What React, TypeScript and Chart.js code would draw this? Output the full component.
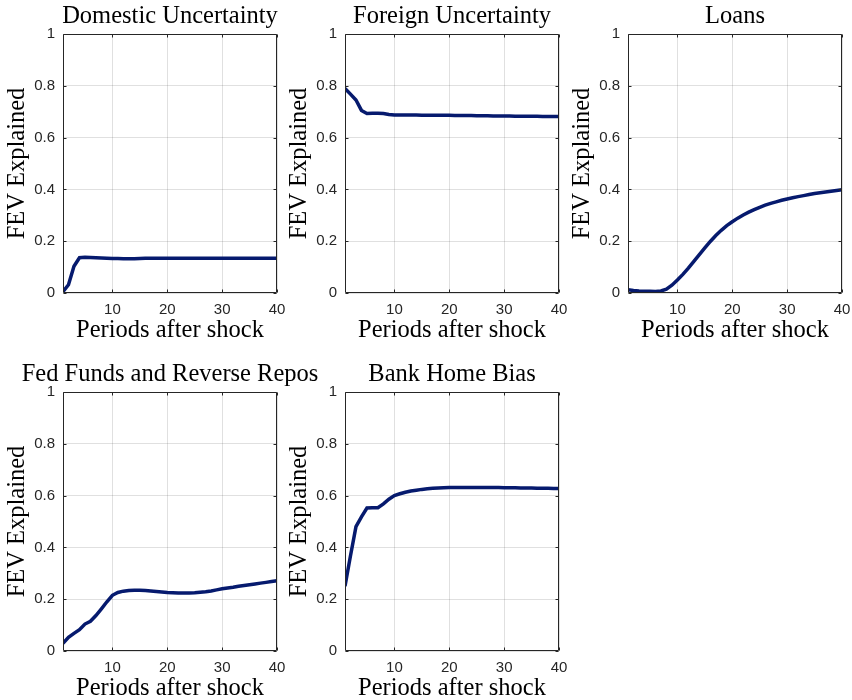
import React, { useEffect, useRef } from 'react';
import { Chart, registerables } from 'chart.js';

Chart.register(...registerables);

// ---- data ----
const periods = [1, 2, 3, 4, 5, 6, 7, 8, 9, 10, 11, 12, 13, 14, 15, 16, 17, 18, 19, 20,
  21, 22, 23, 24, 25, 26, 27, 28, 29, 30, 31, 32, 33, 34, 35, 36, 37, 38, 39, 40];
const xTickValues = [10, 20, 30, 40];
const yTickValues = [0, 0.2, 0.4, 0.6, 0.8, 1];

const domesticUncertainty = [0.005, 0.032, 0.103, 0.136, 0.138, 0.137, 0.136, 0.135, 0.134, 0.133,
  0.133, 0.132, 0.132, 0.132, 0.133, 0.134, 0.134, 0.134, 0.134, 0.134,
  0.134, 0.134, 0.134, 0.134, 0.134, 0.134, 0.134, 0.134, 0.134, 0.134,
  0.134, 0.134, 0.134, 0.134, 0.134, 0.134, 0.134, 0.134, 0.134, 0.134];

const foreignUncertainty = [0.79, 0.768, 0.745, 0.705, 0.693, 0.694, 0.694, 0.693, 0.689, 0.687,
  0.687, 0.687, 0.687, 0.687, 0.686, 0.686, 0.686, 0.686, 0.686, 0.686,
  0.685, 0.685, 0.685, 0.685, 0.684, 0.684, 0.684, 0.683, 0.683, 0.683,
  0.683, 0.682, 0.682, 0.682, 0.682, 0.682, 0.681, 0.681, 0.681, 0.681];

const loans = [0.013, 0.01, 0.008, 0.007, 0.007, 0.006, 0.008, 0.015, 0.03, 0.05,
  0.072, 0.096, 0.122, 0.148, 0.174, 0.199, 0.222, 0.242, 0.26, 0.275,
  0.289, 0.301, 0.312, 0.322, 0.331, 0.339, 0.346, 0.352, 0.358, 0.363,
  0.368, 0.372, 0.376, 0.38, 0.384, 0.387, 0.39, 0.393, 0.396, 0.399];

const fedFundsReverseRepos = [0.03, 0.053, 0.068, 0.082, 0.104, 0.115, 0.137, 0.163, 0.19, 0.215,
  0.226, 0.231, 0.234, 0.235, 0.235, 0.234, 0.232, 0.23, 0.228, 0.226,
  0.225, 0.224, 0.224, 0.224, 0.225, 0.227, 0.229, 0.232, 0.236, 0.24,
  0.243, 0.246, 0.25, 0.253, 0.256, 0.259, 0.262, 0.265, 0.268, 0.271];

const bankHomeBias = [0.25, 0.368, 0.48, 0.518, 0.552, 0.553, 0.553, 0.568, 0.586, 0.6,
  0.607, 0.613, 0.618, 0.621, 0.624, 0.626, 0.628, 0.629, 0.63, 0.631,
  0.631, 0.631, 0.631, 0.631, 0.631, 0.631, 0.631, 0.631, 0.631, 0.63,
  0.63, 0.63, 0.629, 0.629, 0.629, 0.628, 0.628, 0.628, 0.627, 0.627];

const panelTitles = ['Domestic Uncertainty', 'Foreign Uncertainty', 'Loans', 'Fed Funds and Reverse Repos', 'Bank Home Bias'];
const panelSeries = [domesticUncertainty, foreignUncertainty, loans, fedFundsReverseRepos, bankHomeBias];
const xAxisTitle = 'Periods after shock';
const yAxisTitle = 'FEV Explained';

// ---- layout / style ----
const colLefts = [0, 282, 565];
const rowTops = [0, 358];
const CANVAS_W = 340;
const CANVAS_H = 345;
const Y_AXIS_W = 63;
const X_AXIS_H = 52;
const LINE_COLOR = '#061a6e';
const AXIS_COLOR = '#262626';
const GRID_COLOR = 'rgba(38,38,38,0.14)';
const SERIF = '"Liberation Serif", "Times New Roman", serif';
const SANS = '"Liberation Sans", Arial, Helvetica, sans-serif';

const boxPlugin = {
  id: 'matlabBox',
  afterDatasetsDraw(chart: any) {
    const { ctx, chartArea } = chart;
    const { left, right, top, bottom } = chartArea;
    const xs = chart.scales.x;
    const ys = chart.scales.y;
    ctx.save();
    ctx.strokeStyle = AXIS_COLOR;
    ctx.lineWidth = 1;
    const l = Math.round(left) + 0.5;
    const r = Math.round(right) - 0.5;
    const t = Math.round(top) + 0.5;
    const b = Math.round(bottom) - 0.5;
    ctx.beginPath();
    ctx.rect(l, t, r - l, b - t);
    const tk = 3;
    xTickValues.forEach((v) => {
      const px = Math.round(xs.getPixelForValue(v)) + 0.5;
      ctx.moveTo(px, b); ctx.lineTo(px, b - tk);
      ctx.moveTo(px, t); ctx.lineTo(px, t + tk);
    });
    yTickValues.forEach((v) => {
      const py = Math.round(ys.getPixelForValue(v)) + 0.5;
      ctx.moveTo(l, py); ctx.lineTo(l + tk, py);
      ctx.moveTo(r, py); ctx.lineTo(r - tk, py);
    });
    ctx.stroke();
    ctx.restore();
  },
};

function Panel({ index }: { index: number }) {
  const ref = useRef<HTMLCanvasElement>(null);
  const col = index % 3;
  const row = Math.floor(index / 3);
  useEffect(() => {
    const series = panelSeries[index];
    const chart = new Chart(ref.current as HTMLCanvasElement, {
      type: 'line',
      data: {
        datasets: [
          {
            data: periods.map((p, i) => ({ x: p, y: series[i] })),
            borderColor: LINE_COLOR,
            borderWidth: 3.5,
            pointRadius: 0,
            tension: 0,
            fill: false,
            yAxisID: 'y',
          },
        ],
      },
      options: {
        animation: false,
        responsive: false,
        maintainAspectRatio: false,
        layout: { padding: { top: 2, right: 0, bottom: 0, left: 0 } },
        plugins: {
          legend: { display: false },
          tooltip: { enabled: false },
          title: {
            display: true,
            text: panelTitles[index],
            color: '#000',
            font: { family: SERIF, size: 24.5, weight: 'normal' },
            padding: { top: 0, bottom: 2.6 },
          },
        },
        scales: {
          x: {
            type: 'linear',
            min: 1,
            max: 40,
            afterBuildTicks: (scale: any) => {
              scale.ticks = xTickValues.map((v) => ({ value: v }));
            },
            afterFit: (scale: any) => {
              scale.height = X_AXIS_H;
            },
            ticks: {
              color: AXIS_COLOR,
              font: { family: SANS, size: 15 },
              padding: 7.5,
              maxRotation: 0,
              autoSkip: false,
              callback: (v: any) => String(v),
            },
            grid: { color: GRID_COLOR, lineWidth: 1, drawTicks: false },
            border: { display: false },
            title: {
              display: true,
              text: xAxisTitle,
              color: '#000',
              font: { family: SERIF, size: 24.5, weight: 'normal' },
              padding: { top: 0, bottom: 0 },
            },
          },
          y: {
            type: 'linear',
            position: 'left',
            min: 0,
            max: 1,
            afterBuildTicks: (scale: any) => {
              scale.ticks = yTickValues.map((v) => ({ value: v }));
            },
            afterFit: (scale: any) => {
              scale.width = Y_AXIS_W;
            },
            ticks: {
              color: AXIS_COLOR,
              font: { family: SANS, size: 15 },
              padding: 8,
              autoSkip: false,
              callback: (v: any) => String(v),
            },
            grid: { color: GRID_COLOR, lineWidth: 1, drawTicks: false },
            border: { display: false },
            title: {
              display: true,
              text: yAxisTitle,
              color: '#000',
              font: { family: SERIF, size: 24.5, weight: 'normal' },
              padding: { top: 3.3, bottom: 0 },
            },
          },
          // empty right-hand spacer so the panel title is centred over the axes
          ySpacer: {
            type: 'linear',
            position: 'right',
            min: 0,
            max: 1,
            afterFit: (scale: any) => {
              scale.width = Y_AXIS_W;
            },
            ticks: { display: false },
            grid: { display: false, drawTicks: false },
            border: { display: false },
          },
        },
      } as any,
      plugins: [boxPlugin],
    });
    return () => chart.destroy();
  }, [index]);
  return (
    <canvas
      ref={ref}
      width={CANVAS_W}
      height={CANVAS_H}
      style={{ position: 'absolute', left: colLefts[col], top: rowTops[row], width: CANVAS_W, height: CANVAS_H }}
    />
  );
}

export default function App() {
  return (
    <div
      style={{
        position: 'fixed',
        left: 0,
        top: 0,
        width: 852,
        height: 700,
        overflow: 'hidden',
        background: '#fff',
      }}
    >
      {panelTitles.map((_, i) => (
        <Panel key={i} index={i} />
      ))}
    </div>
  );
}
